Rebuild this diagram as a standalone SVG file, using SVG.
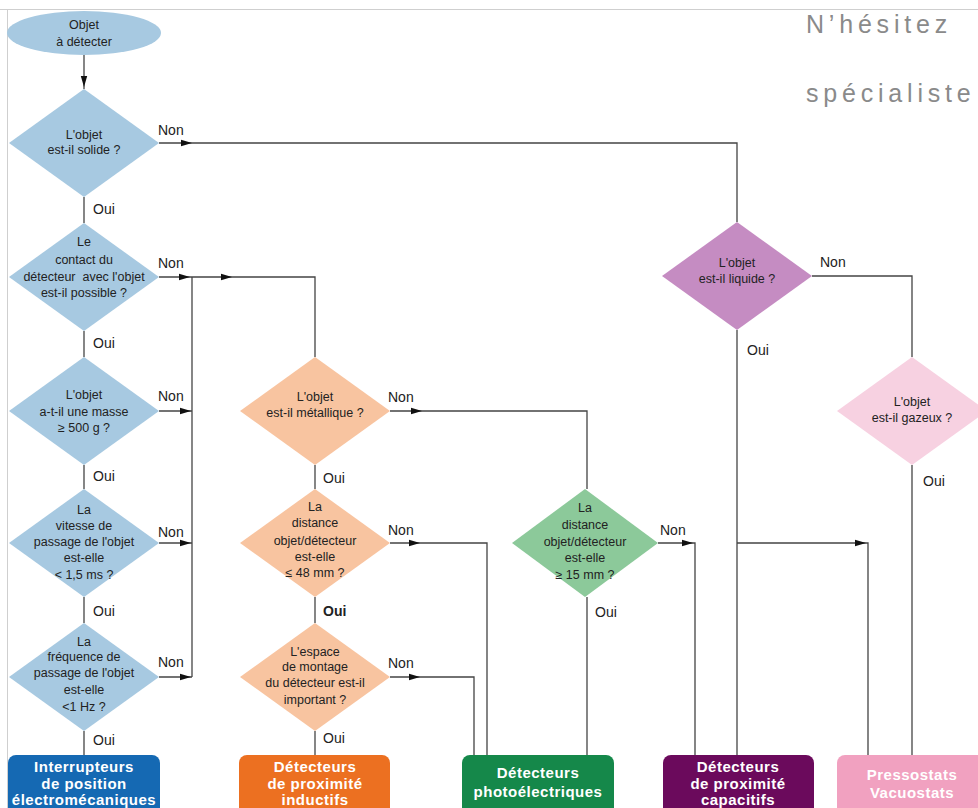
<svg xmlns="http://www.w3.org/2000/svg" xmlns:xlink="http://www.w3.org/1999/xlink" width="978" height="808" viewBox="0 0 978 808">
<defs>
<style>
.t{font-family:"Liberation Sans",Arial,sans-serif;font-size:12.5px;fill:#222;text-anchor:middle}
.lb{font-family:"Liberation Sans",Arial,sans-serif;font-size:14px;fill:#222}
.bx{font-family:"Liberation Sans",Arial,sans-serif;font-size:15px;font-weight:bold;fill:#fff;text-anchor:middle;letter-spacing:0.5px}
.c{fill:none;stroke:#444;stroke-width:1.3}
.ttl{font-family:"Liberation Sans",Arial,sans-serif;font-size:25px;fill:#8a8a8a;letter-spacing:4.8px}
</style>
<path id="ah" d="M0,0 L-11,-3.2 L-11,3.2 Z" fill="#111"/>
</defs>
<rect width="978" height="808" fill="#fff"/>
<path d="M0,9.5 H978 M7.5,9.5 V808" fill="none" stroke="#cfcfcf" stroke-width="1"/>
<text class="ttl" x="806" y="33">N’hésitez</text>
<text class="ttl" x="806" y="102">spécialiste</text>

<g id="connectors">
<path class="c" d="M84,55 V89"/>
<path class="c" d="M84,197 V223"/>
<path class="c" d="M84,331 V357"/>
<path class="c" d="M84,465 V489"/>
<path class="c" d="M84,597 V623"/>
<path class="c" d="M84,731 V755"/>
<path class="c" d="M159,143 H737 V222"/>
<path class="c" d="M159,277 H315 V357"/>
<path class="c" d="M192,277 V677"/>
<path class="c" d="M159,411 H192"/>
<path class="c" d="M159,543 H192"/>
<path class="c" d="M159,677 H192"/>
<path class="c" d="M390,411 H587 V489"/>
<path class="c" d="M587,597 V755"/>
<path class="c" d="M315,465 V489"/>
<path class="c" d="M315,597 V623"/>
<path class="c" d="M315,731 V755"/>
<path class="c" d="M390,543 H487 V755"/>
<path class="c" d="M390,677 H474 V755"/>
<path class="c" d="M658,543 H695 V755"/>
<path class="c" d="M737,330 V755"/>
<path class="c" d="M737,543 H868 V755"/>
<path class="c" d="M812,276 H912 V357"/>
<path class="c" d="M912,465 V755"/>
<use xlink:href="#ah" transform="translate(84,87) rotate(90)"/>
<use xlink:href="#ah" transform="translate(192,143)"/>
<use xlink:href="#ah" transform="translate(190,277)"/>
<use xlink:href="#ah" transform="translate(232,277)"/>
<use xlink:href="#ah" transform="translate(191,411)"/>
<use xlink:href="#ah" transform="translate(191,543)"/>
<use xlink:href="#ah" transform="translate(191,677)"/>
<use xlink:href="#ah" transform="translate(422,411)"/>
<use xlink:href="#ah" transform="translate(420,543)"/>
<use xlink:href="#ah" transform="translate(420,677)"/>
<use xlink:href="#ah" transform="translate(693,543)"/>
<use xlink:href="#ah" transform="translate(866,543)"/>
<text class="lb" x="158" y="135">Non</text>
<text class="lb" x="93" y="214">Oui</text>
<text class="lb" x="158" y="268">Non</text>
<text class="lb" x="93" y="348">Oui</text>
<text class="lb" x="158" y="401">Non</text>
<text class="lb" x="93" y="481">Oui</text>
<text class="lb" x="158" y="537">Non</text>
<text class="lb" x="93" y="616">Oui</text>
<text class="lb" x="158" y="667">Non</text>
<text class="lb" x="93" y="745">Oui</text>
<text class="lb" x="388" y="402">Non</text>
<text class="lb" x="323" y="483">Oui</text>
<text class="lb" x="388" y="535">Non</text>
<text class="lb" x="323" y="616" font-weight="bold">Oui</text>
<text class="lb" x="388" y="668">Non</text>
<text class="lb" x="323" y="743">Oui</text>
<text class="lb" x="660" y="535">Non</text>
<text class="lb" x="595" y="617">Oui</text>
<text class="lb" x="820" y="267">Non</text>
<text class="lb" x="747" y="355">Oui</text>
<text class="lb" x="923" y="486">Oui</text>
</g>

<g id="start">
<ellipse cx="84" cy="33" rx="77" ry="22" fill="#a7c9e1"/>
<text class="t" x="84" y="29">Objet</text>
<text class="t" x="84" y="46">à détecter</text>
</g>

<g id="d-solide">
<path d="M84,89 L159,143 L84,197 L9,143 Z" fill="#a7c9e1"/>
<text class="t" x="84" y="139">L'objet</text>
<text class="t" x="84" y="154">est-il solide ?</text>
</g>
<g id="d-contact">
<path d="M84,223 L159,277 L84,331 L9,277 Z" fill="#a7c9e1"/>
<text class="t" x="84" y="246">Le</text>
<text class="t" x="84" y="264">contact du</text>
<text class="t" x="84" y="281" xml:space="preserve">détecteur  avec l'objet</text>
<text class="t" x="84" y="297">est-il possible ?</text>
</g>
<g id="d-masse">
<path d="M84,357 L159,411 L84,465 L9,411 Z" fill="#a7c9e1"/>
<text class="t" x="84" y="399">L'objet</text>
<text class="t" x="84" y="416">a-t-il une masse</text>
<text class="t" x="84" y="432">≥ 500 g ?</text>
</g>
<g id="d-vitesse">
<path d="M84,489 L159,543 L84,597 L9,543 Z" fill="#a7c9e1"/>
<text class="t" x="84" y="514">La</text>
<text class="t" x="84" y="530">vitesse de</text>
<text class="t" x="84" y="546">passage de l'objet</text>
<text class="t" x="84" y="562">est-elle</text>
<text class="t" x="84" y="579">&lt; 1,5 ms ?</text>
</g>
<g id="d-frequence">
<path d="M84,623 L159,677 L84,731 L9,677 Z" fill="#a7c9e1"/>
<text class="t" x="84" y="646">La</text>
<text class="t" x="84" y="661">fréquence de</text>
<text class="t" x="84" y="677">passage de l'objet</text>
<text class="t" x="84" y="694">est-elle</text>
<text class="t" x="84" y="711">&lt;1 Hz ?</text>
</g>

<g id="d-metallique">
<path d="M315,357 L390,411 L315,465 L240,411 Z" fill="#f8c4a0"/>
<text class="t" x="315" y="401">L'objet</text>
<text class="t" x="315" y="417">est-il métallique ?</text>
</g>
<g id="d-distance48">
<path d="M315,489 L390,543 L315,597 L240,543 Z" fill="#f8c4a0"/>
<text class="t" x="315" y="511">La</text>
<text class="t" x="315" y="527">distance</text>
<text class="t" x="315" y="545">objet/détecteur</text>
<text class="t" x="315" y="561">est-elle</text>
<text class="t" x="315" y="577">≤ 48 mm ?</text>
</g>
<g id="d-espace">
<path d="M315,623 L390,677 L315,731 L240,677 Z" fill="#f8c4a0"/>
<text class="t" x="315" y="656">L'espace</text>
<text class="t" x="315" y="671">de montage</text>
<text class="t" x="315" y="687">du détecteur est-il</text>
<text class="t" x="315" y="704">important ?</text>
</g>

<g id="d-distance15">
<path d="M585,489 L658,543 L585,597 L512,543 Z" fill="#8cc99a"/>
<text class="t" x="585" y="512">La</text>
<text class="t" x="585" y="529">distance</text>
<text class="t" x="585" y="546">objet/détecteur</text>
<text class="t" x="585" y="562">est-elle</text>
<text class="t" x="585" y="579">≥ 15 mm ?</text>
</g>

<g id="d-liquide">
<path d="M737,222 L812,276 L737,330 L662,276 Z" fill="#c58cc2"/>
<text class="t" x="737" y="267">L'objet</text>
<text class="t" x="737" y="283">est-il liquide ?</text>
</g>
<g id="d-gazeux">
<path d="M912,357 L987,411 L912,465 L837,411 Z" fill="#f7d1e1"/>
<text class="t" x="912" y="406">L'objet</text>
<text class="t" x="912" y="422">est-il gazeux ?</text>
</g>

<g id="b-interrupteurs">
<rect x="8" y="755" width="152" height="70" rx="8" fill="#1569b3"/>
<text class="bx" x="84" y="772">Interrupteurs</text>
<text class="bx" x="84" y="789">de position</text>
<text class="bx" x="84" y="805">électromécaniques</text>
</g>
<g id="b-inductifs">
<rect x="239" y="755" width="151" height="70" rx="8" fill="#ec7021"/>
<text class="bx" x="315" y="772">Détecteurs</text>
<text class="bx" x="315" y="789">de proximité</text>
<text class="bx" x="315" y="805">inductifs</text>
</g>
<g id="b-photo">
<rect x="462" y="755" width="152" height="70" rx="8" fill="#15884a"/>
<text class="bx" x="538" y="778">Détecteurs</text>
<text class="bx" x="538" y="797">photoélectriques</text>
</g>
<g id="b-capacitifs">
<rect x="663" y="755" width="151" height="70" rx="8" fill="#6b0a5c"/>
<text class="bx" x="738" y="772">Détecteurs</text>
<text class="bx" x="738" y="789">de proximité</text>
<text class="bx" x="738" y="805">capacitifs</text>
</g>
<g id="b-pressostats">
<rect x="837" y="755" width="152" height="70" rx="8" fill="#f1a1c0"/>
<text class="bx" x="912" y="780">Pressostats</text>
<text class="bx" x="912" y="798">Vacuostats</text>
</g>
</svg>
